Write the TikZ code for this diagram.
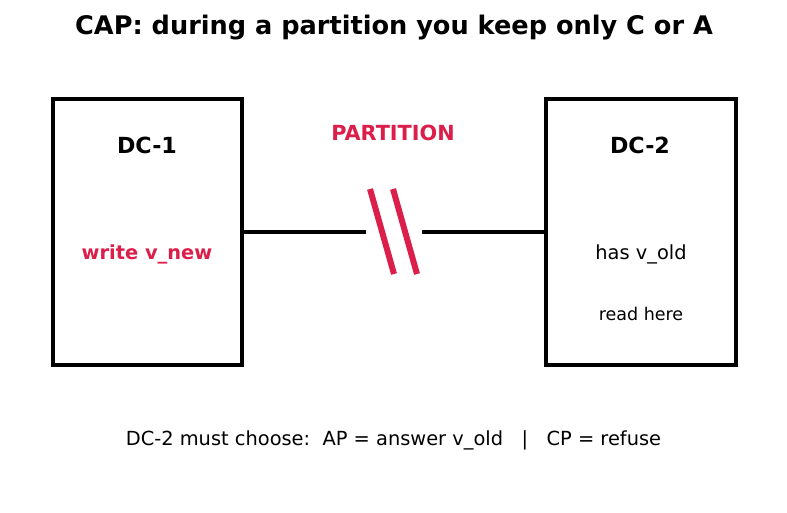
\documentclass[tikz,border=0pt]{standalone}
\usepackage{fontspec}
\setmainfont{DejaVu Sans}
\definecolor{crim}{RGB}{220,30,75}
\begin{document}
\begin{tikzpicture}[x=1pt,y=-1pt,
  dcbox/.style={draw=black,line width=4.5pt,fill=white,inner sep=0pt},
  link/.style={draw=black,line width=3.5pt},
  cut/.style={draw=crim,line width=6pt},
  lbl/.style={inner sep=0pt,anchor=center}]
\useasboundingbox[fill=white] (0,0) rectangle (787,512);
\node[lbl,font=\fontsize{25.6}{30}\selectfont\bfseries] (title) at (394,28) {CAP: during a partition you keep only C or A};
\node[dcbox,minimum width=189pt,minimum height=266pt] (dc1) at (147.5,232) {};
\node[dcbox,minimum width=190pt,minimum height=266pt] (dc2) at (641,232) {};
\node[lbl,font=\fontsize{22.2}{26}\selectfont\bfseries] (dc1t) at (147,145) {DC-1};
\node[lbl,font=\fontsize{22.2}{26}\selectfont\bfseries] (dc2t) at (640,145) {DC-2};
\node[lbl,font=\fontsize{19.4}{23}\selectfont\bfseries,text=crim] (wr) at (147,254.5) {write v\_new};
\node[lbl,font=\fontsize{19.4}{23}\selectfont] (has) at (641,254.5) {has v\_old};
\node[lbl,font=\fontsize{17.5}{21}\selectfont] (rd) at (641,314) {read here};
\node[lbl,font=\fontsize{20.8}{25}\selectfont\bfseries,text=crim] (part) at (393,132.5) {PARTITION};
\coordinate (gapl) at (366,232);
\coordinate (gapr) at (422,232);
\draw[link] (dc1.east) -- (gapl);
\draw[link] (gapr) -- (dc2.west);
\coordinate (s1a) at (370,189); \coordinate (s1b) at (394,274);
\coordinate (s2a) at (393,189); \coordinate (s2b) at (417,274);
\draw[cut] (s1a) -- (s1b);
\draw[cut] (s2a) -- (s2b);
\node[lbl,font=\fontsize{19.4}{23}\selectfont] (bottom) at (393.5,440) {DC-2 must choose:\ \ AP = answer v\_old \ \ |\ \ \ CP = refuse};
\end{tikzpicture}
\end{document}
